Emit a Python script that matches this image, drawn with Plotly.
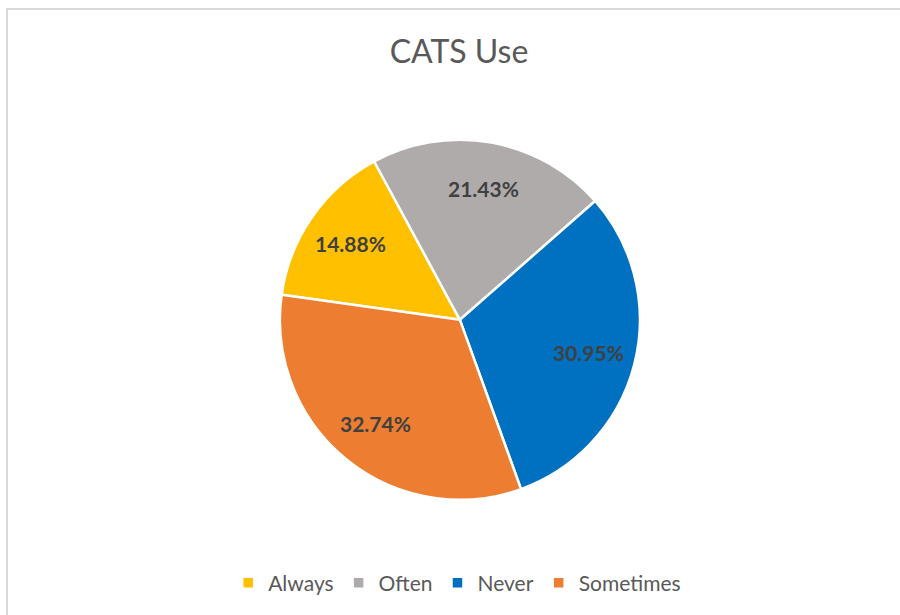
import math
import plotly.graph_objects as go

categories = ["Always", "Often", "Never", "Sometimes"]
counts = [25, 36, 52, 55]
colors = ["#FFC000", "#AFABAB", "#0070C0", "#ED7D31"]

W, H = 900, 615
rotation = 278
dom_x = [0.311, 0.711]
dom_y = [0.187, 0.773]

fig = go.Figure(go.Pie(
    labels=categories,
    values=counts,
    sort=False,
    direction="clockwise",
    rotation=rotation,
    marker=dict(colors=colors, line=dict(color="white", width=2.5)),
    textinfo="none",
    domain=dict(x=dom_x, y=dom_y),
    automargin=False,
    hoverinfo="label+percent",
))

# data labels placed along each slice's bisector, derived from the values
total = sum(counts)
cx = (dom_x[0] + dom_x[1]) / 2 * W
cy = (dom_y[0] + dom_y[1]) / 2 * H
R = min((dom_x[1] - dom_x[0]) * W, (dom_y[1] - dom_y[0]) * H) / 2
label_r = 0.74 * R
annotations = []
cum = 0
for v in counts:
    mid = math.radians(rotation + (cum + v / 2) / total * 360)
    cum += v
    px = cx + label_r * math.sin(mid)
    py = cy + label_r * math.cos(mid)
    annotations.append(dict(
        x=px / W, y=py / H, xref="paper", yref="paper",
        text=f"{v / total * 100:.2f}%", showarrow=False,
        xanchor="center", yanchor="middle",
        font=dict(family="Lato", size=21, color="#404040", weight="bold"),
    ))

fig.update_layout(
    width=W, height=H,
    margin=dict(l=0, r=0, t=0, b=0),
    paper_bgcolor="white",
    plot_bgcolor="white",
    title=dict(text="CATS Use", x=0.51, xanchor="center", y=1 - 52/615, yanchor="middle",
               font=dict(family="Lato", size=32, color="#595959")),
    showlegend=True,
    legend=dict(orientation="h", x=0.508, xanchor="center", y=1 - 583/615, yanchor="middle",
                font=dict(family="Lato", size=21, color="#595959"),
                itemwidth=30, traceorder="normal"),
    annotations=annotations,
    shapes=[dict(type="rect", xref="paper", yref="paper",
                 x0=7/900, x1=1.05, y0=-0.05, y1=1 - 9/615,
                 line=dict(color="#D9D9D9", width=2), fillcolor="rgba(0,0,0,0)")],
)

fig.write_html("out.html")
